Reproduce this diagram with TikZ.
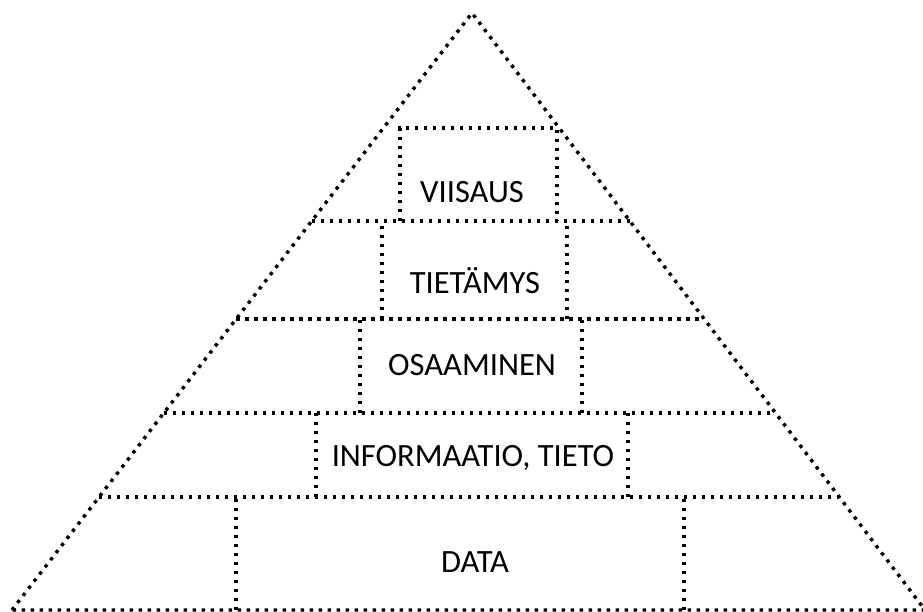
\documentclass[tikz,border=0pt]{standalone}
\usepackage{fontspec}
\setmainfont{Carlito}
\usetikzlibrary{calc}

\begin{document}
\begin{tikzpicture}[x=1pt,y=-1pt,
  dots/.style={line width=3.4pt, dash pattern=on 3.4pt off 5.6pt},
  word/.style={anchor=base, inner sep=0pt, font=\fontsize{32.5}{36}\selectfont}]
\useasboundingbox (0,0) rectangle (923,612);
\coordinate (top) at (472,13);
\coordinate (bl) at (12,610);
\coordinate (br) at (925,610);
\draw[dots] (bl) -- (top) -- (br) -- cycle;
% layer lines
\foreach \y in {221,319,413,497}
  \draw[dots] ($(top)!{(\y-13)/597}!(bl)$) -- ($(top)!{(\y-13)/597}!(br)$);
% boxes
\draw[dots] (400,221) -- (400,128) -- (557,128) -- (557,221);
\draw[dots] (382,319) -- (382,221);
\draw[dots] (567,319) -- (567,221);
\draw[dots] (360,413) -- (360,319);
\draw[dots] (582,413) -- (582,319);
\draw[dots] (316,497) -- (316,413);
\draw[dots] (628,497) -- (628,413);
\draw[dots] (236,610) -- (236,497);
\draw[dots] (684,610) -- (684,497);
% words
\path (472,203) node[word] (viisaus) {VIISAUS};
\path (475,294) node[word] (tietamys) {TIETÄMYS};
\path (472,375) node[word] (osaaminen) {OSAAMINEN};
\path (473,466) node[word] (informaatio) {INFORMAATIO, TIETO};
\path (475,572) node[word] (data) {DATA};
\end{tikzpicture}
\end{document}
